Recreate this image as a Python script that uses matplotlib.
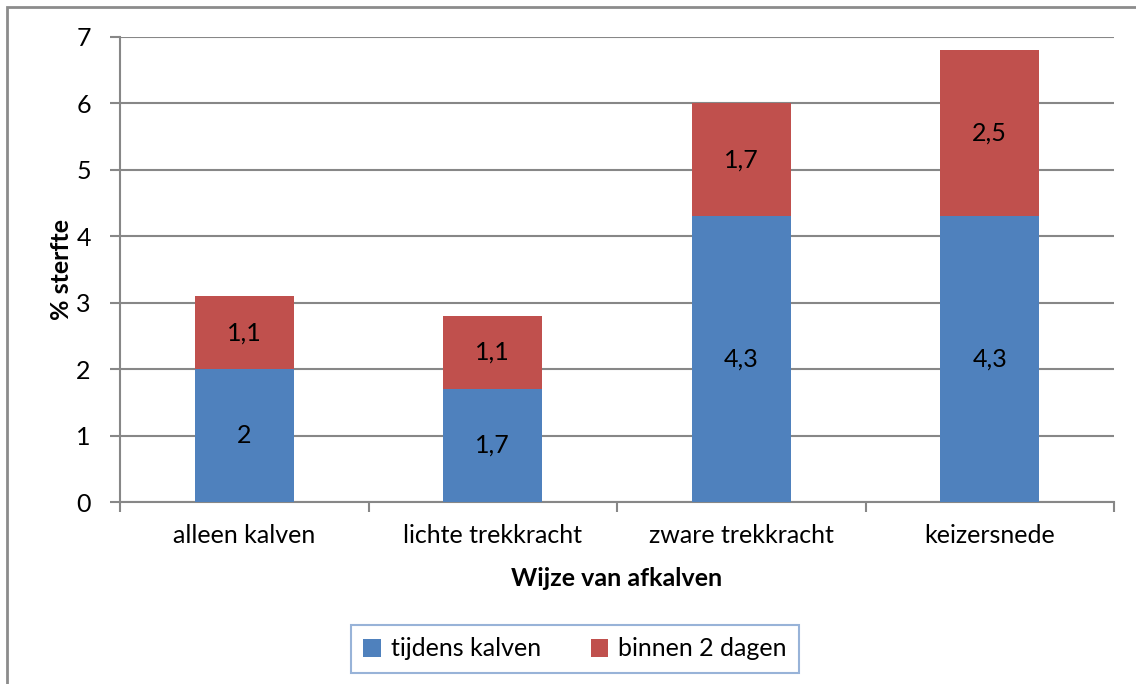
import numpy as np
import matplotlib
matplotlib.use("Agg")
from matplotlib import pyplot as plt
from matplotlib.patches import Rectangle

categories = ["alleen kalven", "lichte trekkracht", "zware trekkracht", "keizersnede"]
tijdens_kalven = [2.0, 1.7, 4.3, 4.3]
binnen_2_dagen = [1.1, 1.1, 1.7, 2.5]
series_names = ["tijdens kalven", "binnen 2 dagen"]
y_ticks = [0, 1, 2, 3, 4, 5, 6, 7]

BLUE = "#4F81BD"
RED = "#C0504D"
GRID = "#878787"
FS = 18

plt.rcParams["font.family"] = ["Lato", "DejaVu Sans"]

W, H = 1136, 684
fig = plt.figure(figsize=(W / 100, H / 100), dpi=100)
ax = fig.add_axes([120 / W, 1 - 502 / H, (1114 - 120) / W, (502 - 37) / H])

# grey outer border like the Excel chart area
fig.patches.append(Rectangle((7 / W, -0.05), 1.2, 1 - 7 / H + 0.05, transform=fig.transFigure,
                             fill=False, edgecolor="#8c8c8c", linewidth=2))

x = np.arange(len(categories))
b1 = ax.bar(x, tijdens_kalven, width=0.4, color=BLUE, zorder=3)
b2 = ax.bar(x, binnen_2_dagen, width=0.4, bottom=tijdens_kalven, color=RED, zorder=3)

def fmt(v):
    s = f"{v:g}"
    return s.replace(".", ",")

for bars, vals, bottoms in [(b1, tijdens_kalven, [0] * 4), (b2, binnen_2_dagen, tijdens_kalven)]:
    for rect, v, b in zip(bars, vals, bottoms):
        ax.text(rect.get_x() + rect.get_width() / 2, b + v / 2, fmt(v), ha="center", va="center",
                fontsize=FS, color="black", zorder=4)

ax.set_xlim(-0.5, len(categories) - 0.5)
ax.set_ylim(0, 7)
ax.set_yticks(y_ticks)
ax.set_yticklabels([str(t) for t in y_ticks], fontsize=FS)
ax.yaxis.grid(True, color=GRID, linewidth=1.5, zorder=0)
ax.set_axisbelow(True)

# x ticks at category boundaries, labels centered
ax.set_xticks(np.arange(-0.5, len(categories), 1.0))
ax.set_xticklabels([])
ax.set_xticks(x, minor=True)
ax.set_xticklabels(categories, minor=True, fontsize=FS)
ax.tick_params(axis="x", which="minor", length=0, pad=16)
ax.tick_params(axis="x", which="major", length=7, width=1.5, color=GRID, direction="out")
ax.tick_params(axis="y", length=7, width=1.5, color=GRID, pad=14)

for side in ["top", "right"]:
    ax.spines[side].set_visible(False)
for side in ["left", "bottom"]:
    ax.spines[side].set_color(GRID)
    ax.spines[side].set_linewidth(1.5)

ax.set_ylabel("% sterfte", fontsize=FS, fontweight="bold", labelpad=2)
ax.set_xlabel("Wijze van afkalven", fontsize=FS, fontweight="bold", labelpad=14)

leg = fig.legend([b1, b2], series_names, loc="center", bbox_to_anchor=(575 / W, 1 - 649 / H),
                 ncol=2, frameon=True, fancybox=False, fontsize=FS, handlelength=0.7,
                 handleheight=0.7, columnspacing=2.0, handletextpad=0.4, borderpad=0.5)
leg.get_frame().set_edgecolor("#7FA0CF")
leg.get_frame().set_linewidth(1.5)

fig.savefig("out.png", dpi=100)
